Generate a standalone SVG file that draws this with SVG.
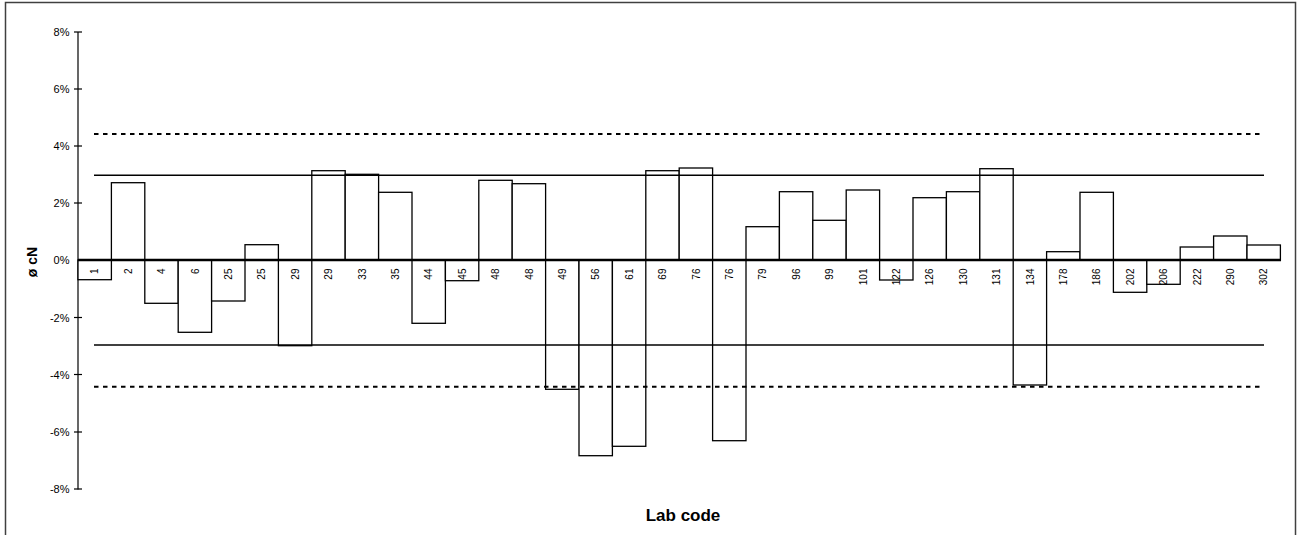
<svg xmlns="http://www.w3.org/2000/svg" width="1303" height="535" viewBox="0 0 1303 535">
<style>
text{font-family:"Liberation Sans",Arial,sans-serif;fill:#000}
.tick{font-size:11px;text-anchor:end}
.lbl{font-size:10px;text-anchor:end}
.ytitle{font-size:14px;font-weight:bold;text-anchor:middle}
.xtitle{font-size:17px;font-weight:bold;text-anchor:middle}
.bar{fill:#fff;stroke:#000;stroke-width:1.3}
.ax{stroke:#000;stroke-width:1.2;fill:none}
.ref{stroke:#000;stroke-width:1.5;fill:none}
.dash{stroke:#000;stroke-width:2;stroke-dasharray:4.5 4.5;fill:none}
</style>
<rect x="5.5" y="2.5" width="1290" height="540" fill="#fff" stroke="#404040" stroke-width="1.5"/>
<g id="axis">
<line class="ax" x1="78" y1="32" x2="78" y2="489.5"/>
<g class="ax">
<line x1="74" y1="32" x2="82" y2="32"/>
<line x1="74" y1="89" x2="82" y2="89"/>
<line x1="74" y1="146" x2="82" y2="146"/>
<line x1="74" y1="203" x2="82" y2="203"/>
<line x1="74" y1="317.5" x2="82" y2="317.5"/>
<line x1="74" y1="374.5" x2="82" y2="374.5"/>
<line x1="74" y1="432" x2="82" y2="432"/>
<line x1="74" y1="489" x2="82" y2="489"/>
</g>
<text class="tick" x="69.5" y="36">8%</text>
<text class="tick" x="69.5" y="93">6%</text>
<text class="tick" x="69.5" y="150">4%</text>
<text class="tick" x="69.5" y="207">2%</text>
<text class="tick" x="69.5" y="264">0%</text>
<text class="tick" x="69.5" y="321.5">-2%</text>
<text class="tick" x="69.5" y="378.5">-4%</text>
<text class="tick" x="69.5" y="436">-6%</text>
<text class="tick" x="69.5" y="493">-8%</text>
<text class="ytitle" transform="translate(36.5,262) rotate(-90)">ø cN</text>
<text class="xtitle" x="683" y="521">Lab code</text>
</g>
<g id="bars">
<rect class="bar" x="78" y="260" width="33.4" height="19.7"/>
<rect class="bar" x="111.4" y="182.7" width="33.4" height="77.3"/>
<rect class="bar" x="144.8" y="260" width="33.4" height="43.3"/>
<rect class="bar" x="178.2" y="260" width="33.4" height="72.3"/>
<rect class="bar" x="211.6" y="260" width="33.4" height="41"/>
<rect class="bar" x="245" y="244.7" width="33.4" height="15.3"/>
<rect class="bar" x="278.4" y="260" width="33.4" height="85.7"/>
<rect class="bar" x="311.8" y="170.7" width="33.4" height="89.3"/>
<rect class="bar" x="345.2" y="174.3" width="33.4" height="85.7"/>
<rect class="bar" x="378.6" y="192.3" width="33.4" height="67.7"/>
<rect class="bar" x="412" y="260" width="33.4" height="63.3"/>
<rect class="bar" x="445.4" y="260" width="33.4" height="20.7"/>
<rect class="bar" x="478.8" y="180.3" width="33.4" height="79.7"/>
<rect class="bar" x="512.2" y="183.7" width="33.4" height="76.3"/>
<rect class="bar" x="545.6" y="260" width="33.4" height="129.3"/>
<rect class="bar" x="579" y="260" width="33.4" height="195.7"/>
<rect class="bar" x="612.4" y="260" width="33.4" height="186.3"/>
<rect class="bar" x="645.8" y="170.7" width="33.4" height="89.3"/>
<rect class="bar" x="679.2" y="168" width="33.4" height="92"/>
<rect class="bar" x="712.6" y="260" width="33.4" height="180.7"/>
<rect class="bar" x="746" y="226.7" width="33.4" height="33.3"/>
<rect class="bar" x="779.4" y="191.7" width="33.4" height="68.3"/>
<rect class="bar" x="812.8" y="220.3" width="33.4" height="39.7"/>
<rect class="bar" x="846.2" y="190" width="33.4" height="70"/>
<rect class="bar" x="879.6" y="260" width="33.4" height="20"/>
<rect class="bar" x="913" y="197.7" width="33.4" height="62.3"/>
<rect class="bar" x="946.4" y="191.7" width="33.4" height="68.3"/>
<rect class="bar" x="979.8" y="168.7" width="33.4" height="91.3"/>
<rect class="bar" x="1013.2" y="260" width="33.4" height="125"/>
<rect class="bar" x="1046.6" y="251.7" width="33.4" height="8.3"/>
<rect class="bar" x="1080" y="192.3" width="33.4" height="67.7"/>
<rect class="bar" x="1113.4" y="260" width="33.4" height="32.3"/>
<rect class="bar" x="1146.8" y="260" width="33.4" height="24.3"/>
<rect class="bar" x="1180.2" y="247" width="33.4" height="13"/>
<rect class="bar" x="1213.6" y="236" width="33.4" height="24"/>
<rect class="bar" x="1247" y="245" width="33.4" height="15"/>
</g>
<g id="connectors">
<line x1="78" y1="260" x2="1281" y2="260" stroke="#000" stroke-width="2.5"/>
<line class="ref" x1="94" y1="175.3" x2="1264" y2="175.3"/>
<line class="ref" x1="94" y1="345" x2="1264" y2="345"/>
<line class="dash" x1="94" y1="134" x2="1264" y2="134"/>
<line class="dash" x1="94" y1="386.7" x2="1264" y2="386.7"/>
</g>
<g id="labels">
<text class="lbl" transform="translate(98.3,268.5) rotate(-90)">1</text>
<text class="lbl" transform="translate(131.7,268.5) rotate(-90)">2</text>
<text class="lbl" transform="translate(165.1,268.5) rotate(-90)">4</text>
<text class="lbl" transform="translate(198.5,268.5) rotate(-90)">6</text>
<text class="lbl" transform="translate(231.9,268.5) rotate(-90)">25</text>
<text class="lbl" transform="translate(265.3,268.5) rotate(-90)">25</text>
<text class="lbl" transform="translate(298.7,268.5) rotate(-90)">29</text>
<text class="lbl" transform="translate(332.1,268.5) rotate(-90)">29</text>
<text class="lbl" transform="translate(365.5,268.5) rotate(-90)">33</text>
<text class="lbl" transform="translate(398.9,268.5) rotate(-90)">35</text>
<text class="lbl" transform="translate(432.3,268.5) rotate(-90)">44</text>
<text class="lbl" transform="translate(465.7,268.5) rotate(-90)">45</text>
<text class="lbl" transform="translate(499.1,268.5) rotate(-90)">48</text>
<text class="lbl" transform="translate(532.5,268.5) rotate(-90)">48</text>
<text class="lbl" transform="translate(565.9,268.5) rotate(-90)">49</text>
<text class="lbl" transform="translate(599.3,268.5) rotate(-90)">56</text>
<text class="lbl" transform="translate(632.7,268.5) rotate(-90)">61</text>
<text class="lbl" transform="translate(666.1,268.5) rotate(-90)">69</text>
<text class="lbl" transform="translate(699.5,268.5) rotate(-90)">76</text>
<text class="lbl" transform="translate(732.9,268.5) rotate(-90)">76</text>
<text class="lbl" transform="translate(766.3,268.5) rotate(-90)">79</text>
<text class="lbl" transform="translate(799.7,268.5) rotate(-90)">96</text>
<text class="lbl" transform="translate(833.1,268.5) rotate(-90)">99</text>
<text class="lbl" transform="translate(866.5,268.5) rotate(-90)">101</text>
<text class="lbl" transform="translate(899.9,268.5) rotate(-90)">122</text>
<text class="lbl" transform="translate(933.3,268.5) rotate(-90)">126</text>
<text class="lbl" transform="translate(966.7,268.5) rotate(-90)">130</text>
<text class="lbl" transform="translate(1000.1,268.5) rotate(-90)">131</text>
<text class="lbl" transform="translate(1033.5,268.5) rotate(-90)">134</text>
<text class="lbl" transform="translate(1066.9,268.5) rotate(-90)">178</text>
<text class="lbl" transform="translate(1100.3,268.5) rotate(-90)">186</text>
<text class="lbl" transform="translate(1133.7,268.5) rotate(-90)">202</text>
<text class="lbl" transform="translate(1167.1,268.5) rotate(-90)">206</text>
<text class="lbl" transform="translate(1200.5,268.5) rotate(-90)">222</text>
<text class="lbl" transform="translate(1233.9,268.5) rotate(-90)">290</text>
<text class="lbl" transform="translate(1267.3,268.5) rotate(-90)">302</text>
</g>
</svg>
